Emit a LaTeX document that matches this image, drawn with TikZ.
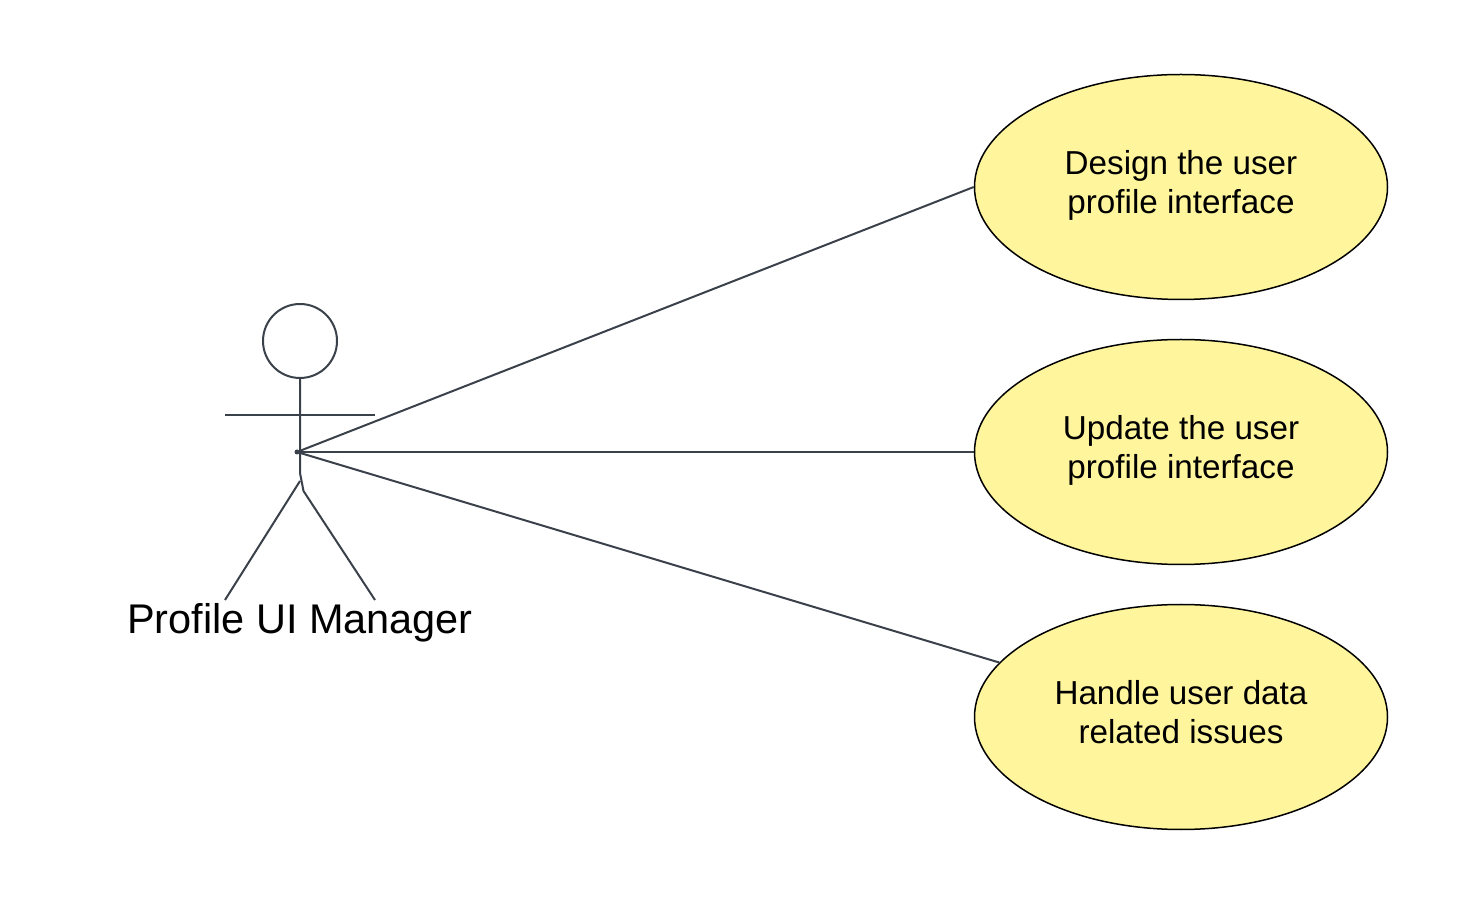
\documentclass[tikz,border=0pt]{standalone}
\usepackage{fontspec}
\setmainfont{Liberation Sans}
\usetikzlibrary{shapes.geometric}
\definecolor{limb}{HTML}{3A414A}
\definecolor{usefill}{HTML}{FFF59D}
\newcommand{\lift}{\rule[-0.2cm]{0pt}{0pt}}
\tikzset{
    usecase/.style={draw=black, line width=0.03cm, ellipse, fill=usefill, minimum width=8.26cm, minimum height=4.5cm, inner sep=0pt, align=center, font=\fontsize{18.9}{22.7}\selectfont},
    limbline/.style={draw=limb, line width=0.04cm},
    link/.style={draw=limb, line width=0.04cm}
}
\begin{document}
\begin{tikzpicture}
    \useasboundingbox (0,0) rectangle (29.26,18.12);

    \node[usecase] (design) at (23.62,14.38) {Design the user\\profile interface\lift};
    \node[usecase] (update) at (23.62,9.08) {Update the user\\profile interface\lift};
    \node[usecase] (handle) at (23.62,3.78) {Handle user data\\related issues\lift};

    \node[limbline, draw, circle, minimum size=1.48cm, inner sep=0pt] (head) at (6,11.3) {};
    \coordinate (armL) at (4.5,9.82);
    \coordinate (armR) at (7.5,9.82);
    \coordinate (neck) at (6,8.66);
    \coordinate (hip) at (6,8.5);
    \coordinate (hipR) at (6.07,8.3);
    \coordinate (footL) at (4.5,6.12);
    \coordinate (footR) at (7.5,6.12);
    \node[fill=limb, circle, minimum size=0.1cm, inner sep=0pt] (actor) at (5.94,9.08) {};
    \node[font=\fontsize{23.6}{28}\selectfont] (manager) at (6,5.66) {Profile UI Manager};

    \draw[limbline] (head) -- (neck) -- (hipR) -- (footR);
    \draw[limbline] (hip) -- (footL);
    \draw[limbline] (armL) -- (armR);

    \draw[link] (actor) -- (design.west);
    \draw[link] (actor) -- (update.west);
    \draw[link] (actor) -- (handle);
\end{tikzpicture}
\end{document}
